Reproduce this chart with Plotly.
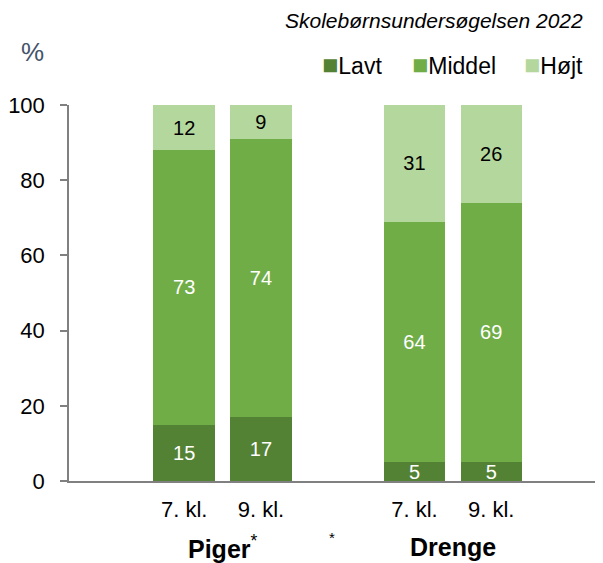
import plotly.graph_objects as go

# Data
positions = [1, 2, 4, 5]
class_labels = ["7. kl.", "9. kl.", "7. kl.", "9. kl."]
groups = ["Piger", "Drenge"]
group_centers = [1.5, 4.5]
lavt = [15, 17, 5, 5]
middel = [73, 74, 64, 69]
hoejt = [12, 9, 31, 26]
series_names = ["Lavt", "Middel", "Højt"]
colors = ["#548235", "#70AD47", "#B4D79E"]
text_colors = ["white", "white", "black"]
y_ticks = [0, 20, 40, 60, 80, 100]

FONT = "Liberation Sans, Arial, sans-serif"

fig = go.Figure()
for name, vals, col, tcol in zip(series_names, [lavt, middel, hoejt], colors, text_colors):
    fig.add_trace(go.Bar(
        x=positions, y=vals, name=name,
        marker=dict(color=col, line=dict(width=0)),
        text=[str(v) for v in vals],
        textposition="inside", insidetextanchor="middle",
        constraintext="none", textangle=0,
        textfont=dict(family=FONT, size=20, color=tcol),
        hoverinfo="skip", showlegend=False,
    ))

# page body adds an 8px offset, so the figure is sized to fit the window
W, H = 595, 555
ml, mr, mt, mb = 61, 2, 97, 82
fig.update_layout(
    width=W, height=H,
    margin=dict(l=ml, r=mr, t=mt, b=mb, autoexpand=False),
    barmode="stack", bargap=0.2,
    plot_bgcolor="white", paper_bgcolor="white",
    font=dict(family=FONT, size=22, color="black"),
    showlegend=False,
)
fig.update_xaxes(
    range=[-0.5, 6.43], tickvals=positions, ticktext=class_labels,
    showline=True, linecolor="#808080", linewidth=1.5,
    ticks="", showgrid=False, zeroline=False, automargin=False,
    ticklabelstandoff=8,
    tickfont=dict(family=FONT, size=22, color="black"),
    fixedrange=True,
)
fig.update_yaxes(
    range=[0, 100], tickvals=y_ticks,
    showline=True, linecolor="#808080", linewidth=1.5,
    ticks="outside", ticklen=7, tickcolor="#808080", tickwidth=1.5,
    showgrid=False, zeroline=False, automargin=False,
    ticklabelstandoff=11,
    tickfont=dict(family=FONT, size=22, color="black"),
    fixedrange=True,
)

annotations = []
# manual legend
legend_x = [0.4718, 0.641, 0.8515]
for name, col, lx in zip(series_names, colors, legend_x):
    annotations.append(dict(
        x=lx, y=1.106, xref="paper", yref="paper",
        text=f"<span style='color:{col};font-size:27px'>■</span>{name}",
        showarrow=False, xanchor="left", yanchor="middle",
        font=dict(family=FONT, size=23, color="black")))
for g, xc in zip(groups, group_centers):
    txt = f"<b>{g}</b>" + ("<sup>*</sup>" if g == "Piger" else "")
    annotations.append(dict(x=xc, y=-0.175, xref="x", yref="paper", text=txt,
                            showarrow=False, xanchor="center", yanchor="middle",
                            font=dict(family=FONT, size=25, color="black")))
annotations.append(dict(x=2.93, y=-0.15, xref="x", yref="paper", text="*",
                        showarrow=False, xanchor="center", yanchor="middle",
                        font=dict(family=FONT, size=15, color="black")))
annotations.append(dict(x=0.97, y=1.226, xref="paper", yref="paper",
                        text="<i>Skolebørnsundersøgelsen 2022</i>",
                        showarrow=False, xanchor="right", yanchor="middle",
                        font=dict(family=FONT, size=21, color="black")))
annotations.append(dict(x=-0.068, y=1.141, xref="paper", yref="paper", text="%",
                        showarrow=False, xanchor="center", yanchor="middle",
                        font=dict(family=FONT, size=26, color="#44546A")))
fig.update_layout(annotations=annotations)

fig.write_html("out.html")
